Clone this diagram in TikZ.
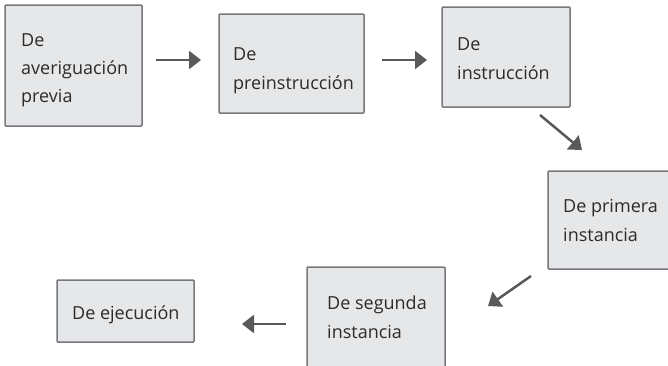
\documentclass[tikz,border=0pt]{standalone}
\usepackage{fontspec}
\setmainfont{Open Sans}
\usetikzlibrary{arrows.meta}
\definecolor{boxfill}{HTML}{E6E7E8}
\definecolor{boxline}{HTML}{77787B}
\definecolor{arrowcol}{HTML}{58595B}
\definecolor{txtcol}{HTML}{2B2B2B}
\begin{document}
\begin{tikzpicture}[x=1pt,y=-1pt,
  box/.style={draw=boxline, fill=boxfill, line width=1.5pt, rounded corners=1pt},
  lbl/.style={anchor=base west, inner sep=0pt, text=txtcol, font=\fontsize{18}{28}\selectfont},
  arr/.style={draw=arrowcol, line width=2.5pt, -{Triangle[length=12pt,width=18pt]}}]
\useasboundingbox (0,0) rectangle (668,365);
\begin{scope}
\clip (0,0) rectangle (668,365);
% boxes
\path[box] (5,5) rectangle (142,126);
\path[box] (219,14) rectangle (364,113);
\path[box] (442,7) rectangle (570,107);
\path[box] (548,171) rectangle (672,269);
\path[box] (307,267) rectangle (445,372);
\path[box] (57,280) rectangle (194,342);
\end{scope}
% labels
\node[lbl] (t1a) at (21,46) {De};
\node[lbl] (t1b) at (21,74) {averiguación};
\node[lbl] (t1c) at (21,102) {previa};
\node[lbl] (t2a) at (233,60) {De};
\node[lbl] (t2b) at (233,89) {preinstrucción};
\node[lbl] (t3a) at (457,50) {De};
\node[lbl] (t3b) at (457,79) {instrucción};
\node[lbl] (t4a) at (563,212) {De primera};
\node[lbl] (t4b) at (563,241) {instancia};
\node[lbl] (t5a) at (327,309) {De segunda};
\node[lbl] (t5b) at (327,338) {instancia};
\node[lbl] (t6a) at (72,319) {De ejecución};
% arrow ends
\coordinate (a1s) at (156,60); \coordinate (a1e) at (201,60);
\coordinate (a2s) at (382,60); \coordinate (a2e) at (427,60);
\coordinate (a3s) at (540,115); \coordinate (a3e) at (582,150);
\coordinate (a4s) at (531,276); \coordinate (a4e) at (488,306);
\coordinate (a5s) at (286,324); \coordinate (a5e) at (242,324);
\draw[arr] (a1s) -- (a1e);
\draw[arr] (a2s) -- (a2e);
\draw[arr] (a3s) -- (a3e);
\draw[arr] (a4s) -- (a4e);
\draw[arr] (a5s) -- (a5e);
\end{tikzpicture}
\end{document}
